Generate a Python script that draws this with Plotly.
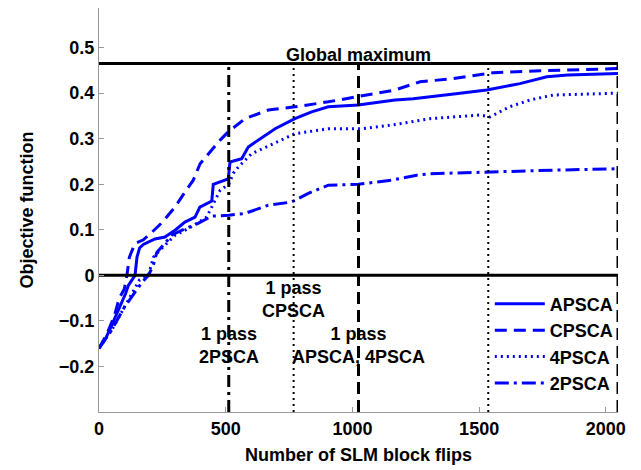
import plotly.graph_objects as go

# ---- data ----
ap_x = [0, 25, 50, 70, 90, 105, 116, 130, 142, 150, 160, 175, 221, 260, 300, 339, 379, 398, 445, 451,
        510, 517, 563, 589, 629, 695, 773, 839, 905, 1023, 1168, 1240, 1400, 1530, 1661, 1767, 1850, 2048]
ap_y = [-0.16, -0.14, -0.11, -0.085, -0.06, -0.04, -0.022, -0.01, 0.0, 0.04, 0.06, 0.068, 0.08, 0.084,
        0.099, 0.117, 0.128, 0.15, 0.163, 0.2, 0.212, 0.249, 0.256, 0.282, 0.297, 0.322, 0.344, 0.359,
        0.37, 0.374, 0.385, 0.388, 0.398, 0.407, 0.421, 0.436, 0.44, 0.443]

cp_x = [0, 30, 60, 80, 100, 110, 120, 142, 175, 200, 247, 300, 339, 372, 399, 438, 478, 510, 576, 668,
        773, 905, 1023, 1168, 1267, 1398, 1556, 1740, 2048]
cp_y = [-0.16, -0.13, -0.09, -0.05, -0.03, 0.0, 0.04, 0.07, 0.078, 0.09, 0.115, 0.15, 0.183, 0.209,
        0.245, 0.271, 0.297, 0.315, 0.344, 0.363, 0.37, 0.381, 0.392, 0.407, 0.425, 0.432, 0.445, 0.449, 0.454]

f4_x = [0, 50, 100, 130, 160, 195, 215, 247, 300, 360, 425, 478, 512, 530, 550, 602, 695, 773, 905,
        1037, 1155, 1306, 1504, 1543, 1620, 1701, 1793, 2048]
f4_y = [-0.16, -0.12, -0.07, -0.04, -0.01, 0.0, 0.04, 0.059, 0.088, 0.105, 0.128, 0.187, 0.2, 0.224,
        0.238, 0.267, 0.29, 0.311, 0.322, 0.322, 0.33, 0.344, 0.352, 0.348, 0.37, 0.385, 0.396, 0.4]

f2_x = [0, 50, 100, 140, 170, 195, 214, 228, 287, 326, 391, 445, 512, 576, 668, 760, 826, 905, 1023,
        1155, 1254, 1306, 1530, 1793, 2048]
f2_y = [-0.16, -0.12, -0.07, -0.04, -0.015, 0.0, 0.022, 0.05, 0.088, 0.099, 0.114, 0.13, 0.132, 0.136,
        0.154, 0.161, 0.18, 0.198, 0.2, 0.209, 0.22, 0.223, 0.227, 0.231, 0.234]

series_names = ["APSCA", "CPSCA", "4PSCA", "2PSCA"]

global_max = 0.465
zero_level = 0.0
x_full = [0, 2048]
pass_x = [512, 768, 1024, 1536, 2048]
y_min = -0.3
y_max = 0.587

x_ticks = [0, 500, 1000, 1500, 2000]
y_ticks = [-0.2, -0.1, 0, 0.1, 0.2, 0.3, 0.4, 0.5]
y_tick_text = ["\u22120.2", "\u22120.1", "0", "0.1", "0.2", "0.3", "0.4", "0.5"]

BLUE = "#0000FF"
FONT = dict(family="Liberation Sans, Arial, sans-serif", size=18, color="black", weight="bold")

fig = go.Figure()
styles = ["solid", "12px,7px", "2px,4px", "14px,5px,3px,5px"]
for name, xs, ys, dsh in zip(series_names, [ap_x, cp_x, f4_x, f2_x], [ap_y, cp_y, f4_y, f2_y], styles):
    fig.add_trace(go.Scatter(x=xs, y=ys, mode="lines", name=name,
                             line=dict(color=BLUE, width=3, dash=dsh)))

# horizontal reference lines
for yv in [zero_level, global_max]:
    fig.add_trace(go.Scatter(x=x_full, y=[yv, yv], mode="lines", showlegend=False,
                             line=dict(color="black", width=3), hoverinfo="skip"))

# vertical pass lines
v_styles = [("12px,5px,3px,5px", 3), ("2px,4px", 2), ("12px,6px", 3), ("2px,4px", 2), ("12px,6px", 3)]
for xv, (dsh, w) in zip(pass_x, v_styles):
    fig.add_trace(go.Scatter(x=[xv, xv], y=[y_min, global_max], mode="lines", showlegend=False,
                             line=dict(color="black", width=w, dash=dsh), hoverinfo="skip"))

fig.add_annotation(x=1024, y=global_max, text="Global maximum", showarrow=False,
                   yanchor="bottom", yshift=-3, font=FONT)
fig.add_annotation(x=768, y=-0.054, text="1 pass<br>CPSCA", showarrow=False, font=FONT)
fig.add_annotation(x=512, y=-0.154, text="1 pass<br>2PSCA", showarrow=False, font=FONT)
fig.add_annotation(x=1024, y=-0.154, text="1 pass<br>APSCA, 4PSCA", showarrow=False, font=FONT)

axis_common = dict(showgrid=False, zeroline=False, showline=True, linecolor="#999999", linewidth=1,
                   ticks="inside", ticklen=5, tickcolor="#999999", tickfont=FONT, mirror=False)

fig.update_layout(
    width=641, height=470,
    margin=dict(l=99, r=23, t=8, b=58),
    paper_bgcolor="white", plot_bgcolor="white",
    font=FONT,
    xaxis=dict(range=[0, 2048], tickvals=x_ticks,
               title=dict(text="Number of SLM block flips", font=FONT, standoff=10), **axis_common),
    yaxis=dict(range=[y_min, y_max], tickvals=y_ticks, ticktext=y_tick_text,
               title=dict(text="Objective function", font=FONT, standoff=20), **axis_common),
    legend=dict(x=0.753, y=0.313, xanchor="left", yanchor="top", bgcolor="rgba(0,0,0,0)",
                font=FONT, itemwidth=50, tracegroupgap=0),
    showlegend=True,
)

fig.write_html("out.html")
